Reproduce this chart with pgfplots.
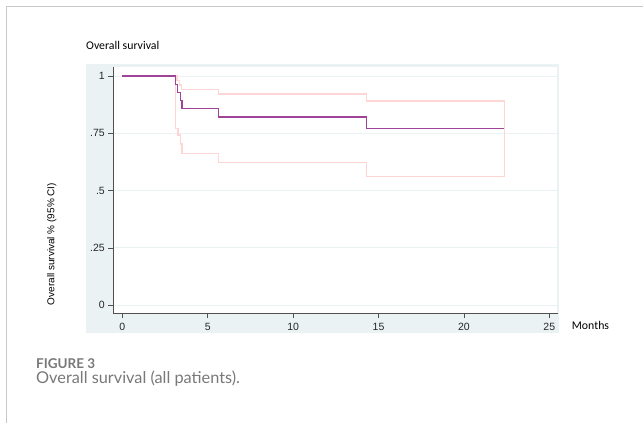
\documentclass[border=0pt]{standalone}
\usepackage{pgfplots}
\pgfplotsset{compat=1.18}
\usepackage{fontspec}
\setmainfont{Liberation Sans}
\newfontfamily\calfont{Carlito}
\newfontfamily\latofont{Lato}
\definecolor{bgc}{RGB}{234,242,243}
\definecolor{gridc}{RGB}{234,242,243}
\definecolor{framec}{RGB}{200,200,200}
\definecolor{axc}{RGB}{80,80,80}
\definecolor{survc}{RGB}{160,68,152}
\definecolor{cic}{RGB}{255,214,214}
\definecolor{capc}{RGB}{120,120,120}
\begin{document}
\begin{tikzpicture}[x=1pt,y=1pt]
\useasboundingbox (0,0) rectangle (643,-423);
\draw[color=framec, line width=1pt] (6,-423) -- (6,-6) -- (643,-6);
\fill[bgc] (86,-64) rectangle (559.3,-333.3);
\fill[white] (113.3,-66.7) rectangle (557.7,-313.3);
\begin{axis}[
  at={(113.3pt,-313.3pt)}, anchor=south west,
  scale only axis, width=444.4pt, height=246.6pt,
  xmin=-0.527, xmax=25.49, ymin=-0.0353, ymax=1.0406,
  axis lines=left,
  axis line style={-, draw=axc, line width=0.9pt},
  xtick={0,5,10,15,20,25},
  ytick={0,0.25,0.5,0.75,1},
  yticklabels={0,.25,.5,.75,1},
  tick align=outside,
  major tick length=5pt,
  tick style={draw=axc, line width=0.7pt},
  ymajorgrids=true,
  grid style={draw=gridc, line width=1pt},
  /pgf/number format/assume math mode=true,
  ticklabel style={font=\fontsize{10.5}{12}\selectfont, text=black!85},
  xticklabel style={yshift=-1pt},
  clip=false,
]
\addplot[const plot, draw=cic, line width=1.4pt] coordinates {
  (0,1) (3.20,0.98) (3.35,0.961) (3.48,0.942) (5.64,0.921) (14.29,0.891) (22.37,0.891) (22.37,0.561)
};
\addplot[const plot, draw=cic, line width=1.4pt] coordinates {
  (0,1) (3.13,0.772) (3.25,0.743) (3.42,0.703) (3.50,0.661) (5.64,0.622) (14.29,0.561) (22.37,0.561)
};
\addplot[const plot, draw=survc, line width=1.3pt] coordinates {
  (0,1) (3.13,0.964) (3.25,0.929) (3.42,0.893) (3.50,0.857) (5.64,0.821) (14.29,0.772) (22.37,0.772)
};
\end{axis}
\draw[bgc, line width=1pt] (557.3,-66.7) -- (557.3,-313.3);
\node[anchor=west, inner sep=0pt, font=\calfont\fontsize{11.8}{13}\selectfont] at (86,-45) {Overall survival};
\node[anchor=west, inner sep=0pt, font=\calfont\fontsize{11.8}{13}\selectfont] at (571.7,-325.5) {Months};
\node[rotate=90, inner sep=0pt, font=\fontsize{10}{12}\selectfont] at (51.7,-244) {Overall survival \% (95\% CI)};
\node[anchor=base west, inner sep=0pt, text=capc, font=\latofont\bfseries\fontsize{13.5}{15}\selectfont] at (36,-368.3) {FIGURE 3};
\node[anchor=base west, inner sep=0pt, text=capc, font=\latofont\fontsize{16.3}{18}\selectfont] at (36,-383.3) {Overall survival (all patients).};
\end{tikzpicture}
\end{document}
